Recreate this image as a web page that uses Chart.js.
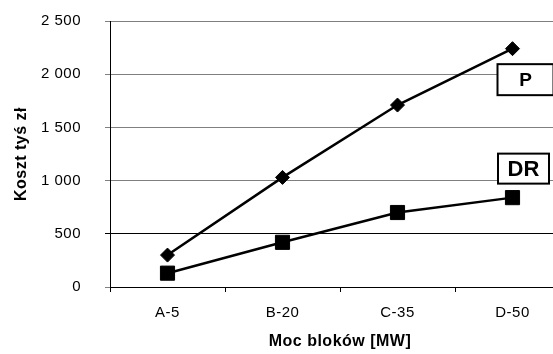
<!DOCTYPE html>
<html>
<head>
<meta charset="utf-8">
<script src="https://cdn.jsdelivr.net/npm/chart.js@4"></script>
<style>
  html, body { margin: 0; padding: 0; background: #fff; overflow: hidden; }
  #wrap { width: 553px; height: 354px; overflow: hidden; }
  canvas { display: block; }
</style>
</head>
<body>
<div id="wrap"><canvas id="chart" width="600" height="354"></canvas></div>
<script>
const categories = ['A-5', 'B-20', 'C-35', 'D-50'];
const seriesP = [300, 1030, 1710, 2240];
const seriesDR = [130, 420, 700, 840];
const seriesNames = ['P', 'DR'];
const yTicks = [0, 500, 1000, 1500, 2000, 2500];

const FONT = "'Liberation Sans', Arial, sans-serif";

const fmt = v => String(v).replace(/\B(?=(\d{3})+(?!\d))/g, ' ');

// letter spacing like the original rendering
const spacing = {
  id: 'spacing',
  beforeDraw(chart) {
    chart.ctx.letterSpacing = '0.5px';
  }
};

// boxed series names next to the last point
const boxLabels = {
  id: 'boxLabels',
  afterDatasetsDraw(chart) {
    const ctx = chart.ctx;
    const boxes = [
      { ds: 0, dx: 13, dy: 31, w: 56, h: 31, size: 19 },
      { ds: 1, dx: 11, dy: -29, w: 51, h: 30, size: 22 }
    ];
    ctx.save();
    ctx.letterSpacing = '0px';
    boxes.forEach(b => {
      const meta = chart.getDatasetMeta(b.ds);
      const pt = meta.data[meta.data.length - 1];
      const cx = pt.x + b.dx, cy = pt.y + b.dy;
      ctx.fillStyle = '#fff';
      ctx.fillRect(cx - b.w / 2, cy - b.h / 2, b.w, b.h);
      ctx.lineWidth = 2;
      ctx.strokeStyle = '#000';
      ctx.strokeRect(cx - b.w / 2, cy - b.h / 2, b.w, b.h);
      ctx.fillStyle = '#000';
      ctx.font = `bold ${b.size}px ${FONT}`;
      ctx.textAlign = 'center';
      ctx.textBaseline = 'middle';
      ctx.fillText(seriesNames[b.ds], cx, cy + 1);
    });
    ctx.restore();
  }
};

new Chart(document.getElementById('chart'), {
  type: 'line',
  data: {
    labels: categories,
    datasets: [{
      label: seriesNames[0],
      data: seriesP,
      borderColor: '#000',
      backgroundColor: '#000',
      borderWidth: 2.5,
      pointStyle: 'rectRot',
      pointRadius: 7,
      pointBorderWidth: 1,
      tension: 0
    }, {
      label: seriesNames[1],
      data: seriesDR,
      borderColor: '#000',
      backgroundColor: '#000',
      borderWidth: 2.5,
      pointStyle: 'rect',
      pointRadius: 10,
      pointBorderWidth: 1,
      tension: 0
    }]
  },
  options: {
    responsive: false,
    animation: false,
    layout: { padding: { top: 21, right: 30, bottom: 0, left: 0 } },
    plugins: {
      legend: { display: false },
      tooltip: { enabled: false }
    },
    scales: {
      x: {
        offset: true,
        grid: {
          offset: true,
          drawOnChartArea: false,
          drawTicks: true,
          tickLength: 5,
          color: '#000'
        },
        border: { color: '#000', width: 1 },
        ticks: {
          color: '#000',
          font: { family: FONT, size: 15 },
          padding: 12,
          maxRotation: 0
        },
        title: {
          display: true,
          text: 'Moc bloków [MW]',
          color: '#000',
          font: { family: FONT, size: 16, weight: 'bold' },
          padding: { top: 0, bottom: 3 }
        },
        afterFit(scale) { scale.height = 67; }
      },
      y: {
        min: yTicks[0],
        max: yTicks[yTicks.length - 1],
        afterBuildTicks(scale) { scale.ticks = yTicks.map(v => ({ value: v })); },
        grid: {
          tickLength: 5,
          color: ctx => (ctx.tick && ctx.tick.value === 500) ? '#000' : '#808080',
          lineWidth: 1
        },
        border: { color: '#000', width: 1 },
        ticks: {
          color: '#000',
          font: { family: FONT, size: 15 },
          padding: 24,
          callback: v => fmt(v)
        },
        title: {
          display: true,
          text: 'Koszt tyś zł',
          color: '#000',
          font: { family: FONT, size: 16, weight: 'bold' },
          padding: { top: 12, bottom: 0 }
        },
        afterFit(scale) {
          scale.width = 110;
          scale.paddingTop = 0;
          scale.paddingBottom = 0;
        }
      }
    }
  },
  plugins: [spacing, boxLabels]
});
</script>
</body>
</html>
